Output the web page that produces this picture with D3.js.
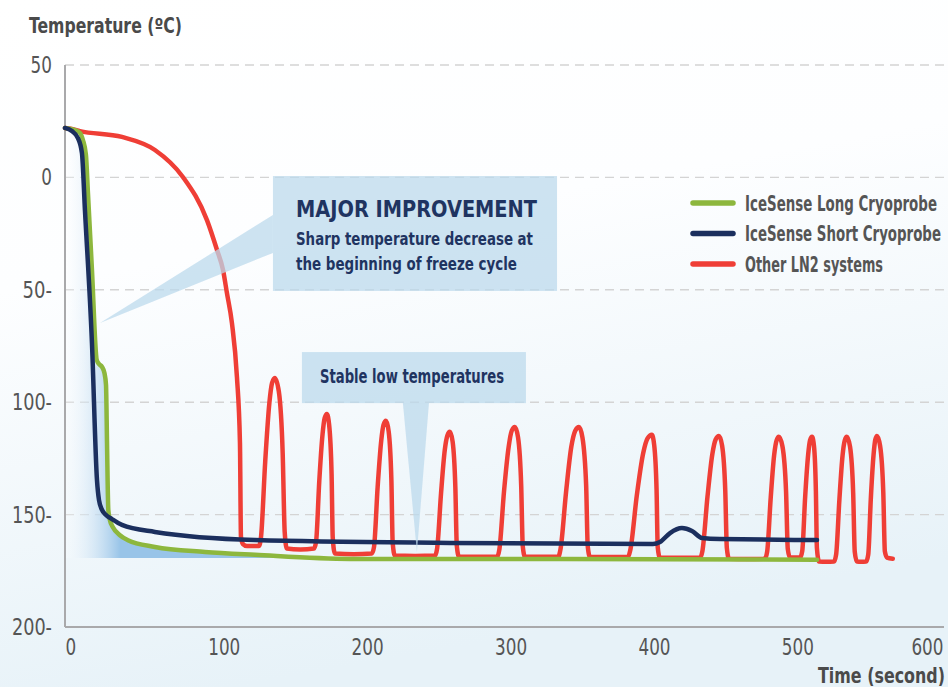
<!DOCTYPE html>
<html>
<head>
<meta charset="utf-8">
<script src="https://cdn.jsdelivr.net/npm/d3@7"></script>
<style>
  html, body { margin: 0; padding: 0; background: #fff; }
  svg { display: block; font-family: "DejaVu Sans Condensed", "Liberation Sans Narrow", sans-serif; }
</style>
</head>
<body>
<svg id="chart" width="948" height="687"></svg>
<script>
// axis ticks
const yTicks = [50, 0, -50, -100, -150, -200];
const yTickLabels = ["50", "0", "50-", "100-", "150-", "200-"];
const xTicks = [0, 100, 200, 300, 400, 500, 600];

const seriesNames = ["IceSense Long Cryoprobe", "IceSense Short Cryoprobe", "Other LN2 systems"];

// [time (s), temperature (ºC)]
const longProbe = [
  [-10.7, 22.0], [-3.8, 21.1], [-0.3, 19.8], [1.8, 16.6], [3.9, 10.0], [5.3, -6.9],
  [8.1, -41.2], [11.4, -81.1], [13.0, -83.0], [15.1, -84.3], [16.8, -87.0], [17.9, -92.3],
  [18.6, -118.1], [19.5, -147.9], [20.6, -152.4], [22.7, -155.6], [27.6, -159.2],
  [33.2, -161.4], [52.0, -164.4], [86.9, -166.6], [121.8, -167.9], [188.0, -169.7],
  [334.4, -169.7], [513.7, -170.1]
];

const shortProbe = [
  [-10.7, 22.0], [-5.9, 20.6], [-1.7, 17.5], [1.1, 10.9], [3.2, -14.5], [8.1, -73.7],
  [11.6, -134.6], [13.0, -143.5], [15.1, -147.9], [17.9, -150.2], [22.0, -152.0],
  [29.0, -154.6], [52.0, -157.7], [121.8, -161.3], [257.7, -162.6], [399.3, -163.1],
  [404.2, -162.2], [411.2, -158.2], [419.5, -156.0], [426.5, -157.3], [433.5, -160.4],
  [446.0, -160.9], [513.7, -161.3]
];

const otherLN2 = [
  [-10.7, 22.0], [-5.9, 21.5], [-0.3, 20.6], [29.0, 18.0], [52.0, 12.2], [71.5, 0.2],
  [88.3, -19.0], [95.3, -32.3], [99.5, -41.2], [102.2, -51.4], [105.7, -64.8], [109.2, -88.8],
  [111.3, -118.1], [112.0, -159.9], [113.4, -163.1], [116.2, -164.0], [124.5, -164.0],
  [126.0, -159.8], [128.9, -126.5], [131.8, -100.4], [133.7, -91.4], [135.6, -89.2], [138.4, -95.2],
  [141.1, -122.8], [142.5, -157.8], [144.0, -165.1], [153.4, -165.5],
  [162.9, -165.1], [164.4, -161.9], [166.6, -135.2], [168.9, -114.2], [170.4, -107.0], [171.9, -105.2],
  [173.5, -110.1], [175.2, -132.2], [176.0, -160.3], [177.5, -167.3], [190.5, -167.6],
  [203.3, -167.3], [204.8, -164.3], [207.3, -137.8], [209.8, -117.2], [211.4, -110.1], [213.1, -108.3],
  [215.0, -113.0], [216.9, -134.9], [217.8, -162.6], [219.3, -168.2], [233.4, -168.4],
  [247.3, -168.2], [248.8, -165.0], [251.5, -140.7], [254.1, -121.4], [255.9, -114.9], [257.7, -113.2],
  [259.6, -117.6], [261.5, -138.0], [262.5, -163.8], [264.0, -168.7], [277.2, -168.8],
  [290.7, -168.7], [292.2, -165.5], [295.4, -139.9], [298.7, -119.7], [300.8, -112.7], [303.0, -111.0],
  [305.2, -115.6], [307.4, -137.0], [308.5, -164.1], [310.0, -168.7], [321.6, -168.8],
  [333.3, -168.7], [334.8, -165.5], [338.7, -139.9], [342.4, -119.7], [345.1, -112.7], [347.7, -111.0],
  [350.1, -115.6], [352.7, -137.0], [353.8, -164.1], [355.3, -168.7], [369.0, -168.9],
  [382.0, -168.7], [383.5, -165.7], [388.0, -141.6], [392.5, -122.6], [395.5, -116.1], [398.5, -114.5],
  [400.1, -118.8], [401.8, -138.9], [402.6, -164.4], [404.1, -169.1], [418.0, -169.2],
  [432.3, -169.1], [433.8, -166.1], [437.3, -142.1], [440.7, -123.1], [443.0, -116.6], [445.3, -115.0],
  [447.5, -119.3], [449.7, -139.3], [450.8, -164.8], [452.3, -169.6], [464.9, -169.8],
  [477.4, -169.6], [478.9, -166.6], [481.4, -142.5], [483.8, -123.5], [485.5, -117.0], [487.1, -115.4],
  [489.6, -119.7], [492.1, -139.8], [493.3, -165.3], [494.8, -169.1], [498.5, -169.1],
  [501.9, -169.1], [503.4, -166.1], [505.4, -142.3], [507.5, -123.4], [508.8, -117.0], [510.2, -115.4],
  [511.6, -119.7], [512.9, -139.6], [513.6, -164.8], [515.1, -170.9], [520.0, -171.0],
  [525.5, -170.9], [527.0, -167.8], [529.3, -143.2], [531.5, -123.7], [533.0, -117.1], [534.5, -115.4],
  [536.7, -119.8], [538.9, -140.4], [540.0, -166.5], [541.5, -170.9], [544.4, -171.0],
  [547.9, -170.9], [549.4, -167.8], [551.2, -143.0], [553.1, -123.5], [554.3, -116.7], [555.5, -115.0],
  [557.7, -119.5], [559.9, -140.2], [561.0, -166.4], [562.5, -169.1], [566.5, -169.6]
];

const colors = { long: "#8db73d", short: "#1b2f5e", other: "#ef3e36" };
const ink = "#555555";
const navyText = "#1f3461";

const svg = d3.select("#chart");
const width = 948, height = 687;

const x = d3.scaleLinear().domain([-10.7, 600]).range([65, 940.8]);
const y = d3.scaleLinear().domain([-200, 50]).range([627, 65]);

// squeeze text to the condensed widths of the original lettering
const fit = (sel, w) => sel.attr("textLength", w).attr("lengthAdjust", "spacingAndGlyphs");

const defs = svg.append("defs");

// page background fades to pale blue at the bottom
const bg = defs.append("linearGradient").attr("id", "bg")
  .attr("x1", 0).attr("y1", 0).attr("x2", 0.25).attr("y2", 1);
bg.append("stop").attr("offset", 0).attr("stop-color", "#ffffff");
bg.append("stop").attr("offset", 0.4).attr("stop-color", "#fdfeff");
bg.append("stop").attr("offset", 1).attr("stop-color", "#e7f2f8");

// blue glow under the fast cooling curve
const glow = defs.append("linearGradient").attr("id", "glow")
  .attr("gradientUnits", "userSpaceOnUse")
  .attr("x1", x(-10.7)).attr("x2", x(28)).attr("y1", 0).attr("y2", 0);
glow.append("stop").attr("offset", 0).attr("stop-color", "#ffffff").attr("stop-opacity", 0.2);
glow.append("stop").attr("offset", 1).attr("stop-color", "#98c4e8");

svg.append("rect").attr("width", width).attr("height", height).attr("fill", "url(#bg)");

// dashed grid
svg.append("g")
  .selectAll("line")
  .data(yTicks.filter((d) => d > -200))
  .join("line")
  .attr("x1", x(-10.7)).attr("x2", width)
  .attr("y1", (d) => y(d)).attr("y2", (d) => y(d))
  .attr("stroke", "#d4d4d4")
  .attr("stroke-width", 1.4)
  .attr("stroke-dasharray", "9,6");

const area = d3.area()
  .x((d) => x(d[0]))
  .y0(y(-169.3))
  .y1((d) => y(d[1]))
  .curve(d3.curveMonotoneX);

svg.append("path")
  .datum(longProbe.filter((d) => d[0] <= 190))
  .attr("d", area)
  .attr("fill", "url(#glow)");

// axes
svg.append("line")
  .attr("x1", x(-10.7)).attr("x2", x(-10.7))
  .attr("y1", y(50)).attr("y2", y(-200))
  .attr("stroke", "#a9a9ab").attr("stroke-width", 2);
svg.append("line")
  .attr("x1", x(-10.7)).attr("x2", 944)
  .attr("y1", y(-200)).attr("y2", y(-200))
  .attr("stroke", "#a9a9ab").attr("stroke-width", 2);

const yAxis = svg.append("g")
  .attr("transform", `translate(${x(-10.7)},0)`)
  .call(d3.axisLeft(y).tickValues(yTicks).tickFormat((d, i) => yTickLabels[i]).tickSize(0).tickPadding(13));

const xAxis = svg.append("g")
  .attr("transform", `translate(0,${y(-200)})`)
  .call(d3.axisBottom(x).tickValues(xTicks).tickSize(0));

[yAxis, xAxis].forEach((g) => {
  g.select(".domain").remove();
  g.selectAll("text")
    .attr("font-family", "DejaVu Sans Condensed, sans-serif")
    .attr("font-size", 23.5)
    .attr("fill", ink)
    .each(function() {
      const s = d3.select(this).text();
      const digits = s.replace("-", "").length;
      fit(d3.select(this), digits * 10.7 + (s.includes("-") ? 8 : 0));
    });
});

xAxis.selectAll("text").attr("y", 28).attr("dy", 0);
// first and last labels are pulled inside the axis ends
xAxis.selectAll("text")
  .filter((d) => d === 0)
  .attr("text-anchor", "start")
  .attr("x", x(-10.7) - x(0));
xAxis.selectAll("text")
  .filter((d) => d === 600)
  .attr("text-anchor", "end")
  .attr("x", 943 - x(600));

// series lines: red under green under navy
const line = d3.line()
  .x((d) => x(d[0]))
  .y((d) => y(d[1]))
  .curve(d3.curveMonotoneX);

[[otherLN2, colors.other], [longProbe, colors.long], [shortProbe, colors.short]].forEach(([data, c]) => {
  svg.append("path")
    .datum(data)
    .attr("d", line)
    .attr("fill", "none")
    .attr("stroke", c)
    .attr("stroke-width", 4.5)
    .attr("stroke-linejoin", "round")
    .attr("stroke-linecap", "round");
});

// callouts, anchored in data units
const calloutFill = "#bcd9ec";

svg.append("path")
  .attr("d", `M${x(134.3)},${y(-16.7)}L${x(13.7)},${y(-64.8)}L${x(134.3)},${y(-33.6)}Z`)
  .attr("fill", calloutFill).attr("opacity", 0.75);
svg.append("rect")
  .attr("x", x(134.3)).attr("y", y(0.6))
  .attr("width", x(332.4) - x(134.3)).attr("height", y(-50.5) - y(0.6))
  .attr("fill", calloutFill).attr("opacity", 0.75);

svg.append("path")
  .attr("d", `M${x(224.9)},${y(-100.4)}L${x(234.7)},${y(-166.6)}L${x(243.1)},${y(-100.4)}Z`)
  .attr("fill", calloutFill).attr("opacity", 0.75);
svg.append("rect")
  .attr("x", x(154.5)).attr("y", y(-77.7))
  .attr("width", x(310.7) - x(154.5)).attr("height", y(-100.4) - y(-77.7))
  .attr("fill", calloutFill).attr("opacity", 0.75);

const notes = svg.append("g").attr("fill", navyText).attr("font-weight", "bold");
notes.append("text")
  .attr("x", 296).attr("y", 217)
  .attr("font-size", 23)
  .text("MAJOR IMPROVEMENT")
  .call(fit, 241);
notes.append("text")
  .attr("x", 296).attr("y", 245)
  .attr("font-size", 18.5)
  .text("Sharp temperature decrease at")
  .call(fit, 237);
notes.append("text")
  .attr("x", 296).attr("y", 270)
  .attr("font-size", 18.5)
  .text("the beginning of freeze cycle")
  .call(fit, 221);
notes.append("text")
  .attr("x", 320).attr("y", 383)
  .attr("font-size", 20)
  .text("Stable low temperatures")
  .call(fit, 184);

// legend
const legendWidths = [192, 196, 138];
const legend = svg.append("g").attr("transform", "translate(693,203)");
const legendRows = legend.selectAll("g")
  .data(seriesNames)
  .join("g")
  .attr("transform", (d, i) => `translate(0,${i * 30.5})`);
legendRows.append("line")
  .attr("x1", 0).attr("x2", 40)
  .attr("stroke", (d, i) => [colors.long, colors.short, colors.other][i])
  .attr("stroke-width", 5.5)
  .attr("stroke-linecap", "round");
legendRows.append("text")
  .attr("x", 52).attr("y", 7.5)
  .attr("font-size", 20.5).attr("font-weight", "bold")
  .attr("fill", ink)
  .text((d) => d)
  .attr("textLength", (d, i) => legendWidths[i])
  .attr("lengthAdjust", "spacingAndGlyphs");

// axis titles
svg.append("text")
  .attr("x", 29).attr("y", 33)
  .attr("font-size", 20.5).attr("font-weight", "bold")
  .attr("fill", "#4a4a4a")
  .text("Temperature (ºC)")
  .call(fit, 153);
svg.append("text")
  .attr("x", 945).attr("y", 683)
  .attr("text-anchor", "end")
  .attr("font-size", 22).attr("font-weight", "bold")
  .attr("fill", "#4a4a4a")
  .text("Time (second)")
  .call(fit, 127);
</script>
</body>
</html>
